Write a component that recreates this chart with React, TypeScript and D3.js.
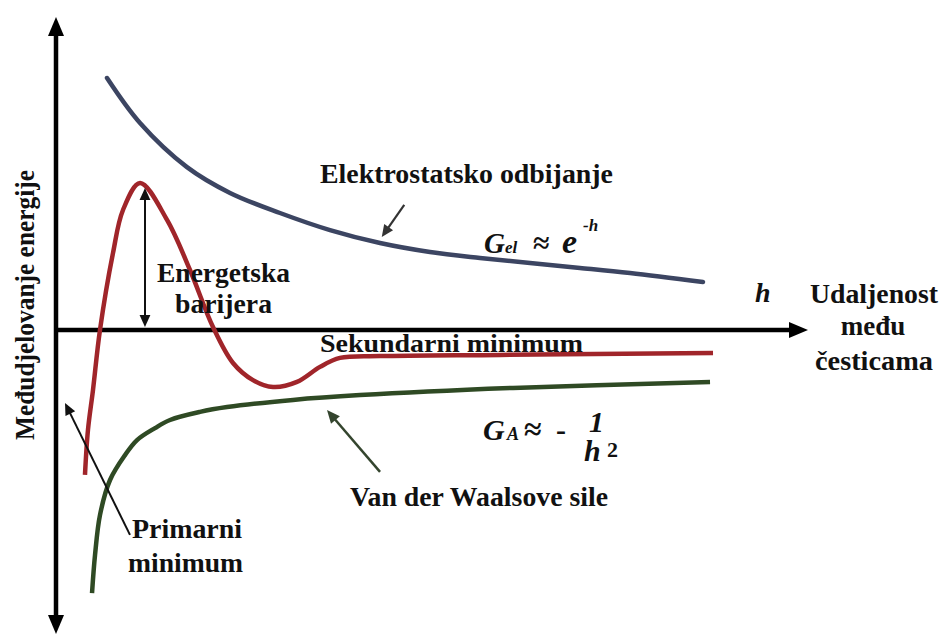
import React from "react";
import * as d3 from "d3";

// Data in abstract units: h (distance, 0..100) and E (energy, -100..100)
const blueH = [6.27, 10.67, 16.93, 22.67, 29.33, 36, 42.67, 49.33, 56, 62.67, 69.33, 76, 85.73];
const blueE = [84, 69, 54.3, 45.7, 39, 33.3, 29, 26, 24, 22.3, 20.7, 19, 16];

const redH = [3.33, 3.73, 4.4, 5.33, 7.07, 8.4, 10.67, 14.27, 17.33, 20.4, 23.07, 25.73, 28.4, 31.6, 34.67, 37.33, 42.67, 58.67, 87.07];
const redE = [-48.3, -33.3, -20, 0, 25.7, 40, 49, 36.7, 20, 1, -11, -16.7, -19, -17.3, -12.3, -9.3, -8.7, -8.3, -7.7];

const greenH = [4.27, 4.67, 5.33, 6.67, 8.67, 10.27, 12.67, 14.67, 18.67, 22.27, 31.07, 40, 60.4, 86.67];
const greenE = [-87.7, -75, -61.7, -50, -41.7, -36.7, -32.7, -30, -27.3, -25.7, -23.3, -21.7, -19.3, -17.3];

// annotation arrows [h1, E1, h2, E2] (head at the second point)
const barrierArrow = [11.33, 47.3, 11.33, 1];
const elektroArrow = [45.9, 41.7, 42.9, 31];
const primarniArrow = [9.33, -68.3, 0.67, -24.3];
const vdwArrow = [42.67, -47.3, 35.6, -26.7];

const W = 941;
const H = 636;

const x = d3.scaleLinear().domain([0, 100]).range([60, 810]);
const y = d3.scaleLinear().domain([-100, 100]).range([630, 30]);

const smooth = d3
  .line<[number, number]>()
  .x((d) => x(d[0]))
  .y((d) => y(d[1]))
  .curve(d3.curveCatmullRom.alpha(0.5));

const zip = (a: number[], b: number[]) => a.map((v, i) => [v, b[i]] as [number, number]);

function Arrow({ a, color, w, head, double }: { a: number[]; color: string; w: number; head: number; double?: boolean }) {
  const x1 = x(a[0]), y1 = y(a[1]), x2 = x(a[2]), y2 = y(a[3]);
  const ang = Math.atan2(y2 - y1, x2 - x1);
  const hw = head * 0.45;
  const mk = (tx: number, ty: number, an: number) => {
    const bx = tx - head * Math.cos(an), by = ty - head * Math.sin(an);
    return `M${tx},${ty}L${bx + hw * Math.sin(an)},${by - hw * Math.cos(an)}L${bx - hw * Math.sin(an)},${by + hw * Math.cos(an)}Z`;
  };
  const s = double ? head * 0.6 : 0;
  return (
    <g>
      <line
        x1={x1 + s * Math.cos(ang)}
        y1={y1 + s * Math.sin(ang)}
        x2={x2 - head * 0.6 * Math.cos(ang)}
        y2={y2 - head * 0.6 * Math.sin(ang)}
        stroke={color}
        strokeWidth={w}
      />
      <path d={mk(x2, y2, ang)} fill={color} />
      {double ? <path d={mk(x1, y1, ang + Math.PI)} fill={color} /> : null}
    </g>
  );
}

export default function App() {
  const ax0 = x(0) - 4;
  const yTop = 17, yBot = 634;
  const yAxis = y(0);
  const xEnd = 808;
  const curve = (hs: number[], es: number[]) => smooth(zip(hs, es)) || "";
  const F = { fontFamily: "Liberation Serif" };
  const adj = "spacingAndGlyphs";
  return (
    <svg width={W} height={H} style={{ position: "absolute", left: 0, top: 0, background: "#fff" }}>
      <rect width={W} height={H} fill="#fff" />
      {/* vertical axis */}
      <line x1={ax0} y1={yTop + 14} x2={ax0} y2={yBot - 14} stroke="#000" strokeWidth={4.5} />
      <path d={`M${ax0},${yTop}L${ax0 - 8},${yTop + 19}L${ax0 + 8},${yTop + 19}Z`} fill="#000" />
      <path d={`M${ax0},${yBot}L${ax0 - 8},${yBot - 19}L${ax0 + 8},${yBot - 19}Z`} fill="#000" />
      {/* horizontal axis */}
      <line x1={ax0} y1={yAxis} x2={xEnd - 14} y2={yAxis} stroke="#000" strokeWidth={4.5} />
      <path d={`M${xEnd},${yAxis}L${xEnd - 19},${yAxis - 8}L${xEnd - 19},${yAxis + 8}Z`} fill="#000" />

      {/* curves */}
      <path d={curve(blueH, blueE)} fill="none" stroke="#3c4562" strokeWidth={4.5} strokeLinecap="round" />
      <path d={curve(redH, redE)} fill="none" stroke="#a0252a" strokeWidth={4.5} strokeLinecap="butt" />
      <path d={curve(greenH, greenE)} fill="none" stroke="#2f4a24" strokeWidth={4.5} strokeLinecap="butt" />

      {/* arrows */}
      <Arrow a={barrierArrow} color="#111" w={2} head={12} double />
      <Arrow a={elektroArrow} color="#333" w={2.2} head={12} />
      <Arrow a={primarniArrow} color="#111" w={2} head={12} />
      <Arrow a={vdwArrow} color="#34452e" w={2.5} head={13} />

      {/* texts */}
      <text style={F} fontWeight="bold" fill="#111" transform="translate(34,305) rotate(-90)" textAnchor="middle" fontSize={27} textLength={270} lengthAdjust={adj}>Međudjelovanje energije</text>
      <text style={F} fontWeight="bold" fill="#111" x={320} y={183} fontSize={27} textLength={293} lengthAdjust={adj}>Elektrostatsko odbijanje</text>
      <text style={F} fontWeight="bold" fill="#111" x={157} y={282} fontSize={27} textLength={133} lengthAdjust={adj}>Energetska</text>
      <text style={F} fontWeight="bold" fill="#111" x={175} y={313} fontSize={27} textLength={97} lengthAdjust={adj}>barijera</text>
      <text style={F} fontWeight="bold" fill="#111" x={320} y={352} fontSize={26} textLength={263} lengthAdjust={adj}>Sekundarni minimum</text>
      <text style={F} fontWeight="bold" fill="#111" x={350} y={506} fontSize={27} textLength={258} lengthAdjust={adj}>Van der Waalsove sile</text>
      <text style={F} fontWeight="bold" fill="#111" x={132} y={538} fontSize={27} textLength={110} lengthAdjust={adj}>Primarni</text>
      <text style={F} fontWeight="bold" fill="#111" x={128} y={572} fontSize={27} textLength={115} lengthAdjust={adj}>minimum</text>
      <text style={F} fontWeight="bold" fill="#111" x={755} y={302} fontSize={28} fontStyle="italic">h</text>
      <text style={F} fontWeight="bold" fill="#111" x={810} y={303} fontSize={27} textLength={128} lengthAdjust={adj}>Udaljenost</text>
      <text style={F} fontWeight="bold" fill="#111" x={873} y={335} fontSize={27} textAnchor="middle">među</text>
      <text style={F} fontWeight="bold" fill="#111" x={815} y={370} fontSize={27} textLength={118} lengthAdjust={adj}>česticama</text>

      {/* G_el ≈ e^-h */}
      <text style={F} fontWeight="bold" fill="#111" x={484} y={253} fontSize={29} fontStyle="italic">G</text>
      <text style={F} fontWeight="bold" fill="#111" x={505} y={253} fontSize={17} fontStyle="italic">el</text>
      <text style={F} fontWeight="bold" fill="#111" x={533} y={253} fontSize={30}>≈</text>
      <text style={F} fontWeight="bold" fill="#111" x={562} y={253} fontSize={34} fontStyle="italic">e</text>
      <text style={F} fontWeight="bold" fill="#111" x={583} y={231} fontSize={17} fontStyle="italic">-h</text>

      {/* G_A ≈ - 1/h^2 */}
      <text style={F} fontWeight="bold" fill="#111" x={483} y={440} fontSize={30} fontStyle="italic">G</text>
      <text style={F} fontWeight="bold" fill="#111" x={507} y={440} fontSize={18} fontStyle="italic">A</text>
      <text style={F} fontWeight="bold" fill="#111" x={524} y={440} fontSize={32}>≈</text>
      <text style={F} fontWeight="bold" fill="#111" x={556} y={440} fontSize={30}>-</text>
      <text style={F} fontWeight="bold" fill="#111" x={589} y={432} fontSize={30} fontStyle="italic">1</text>
      <text style={F} fontWeight="bold" fill="#111" x={584} y={461} fontSize={30} fontStyle="italic">h</text>
      <text style={F} fontWeight="bold" fill="#111" x={607} y={457} fontSize={22}>2</text>
    </svg>
  );
}
